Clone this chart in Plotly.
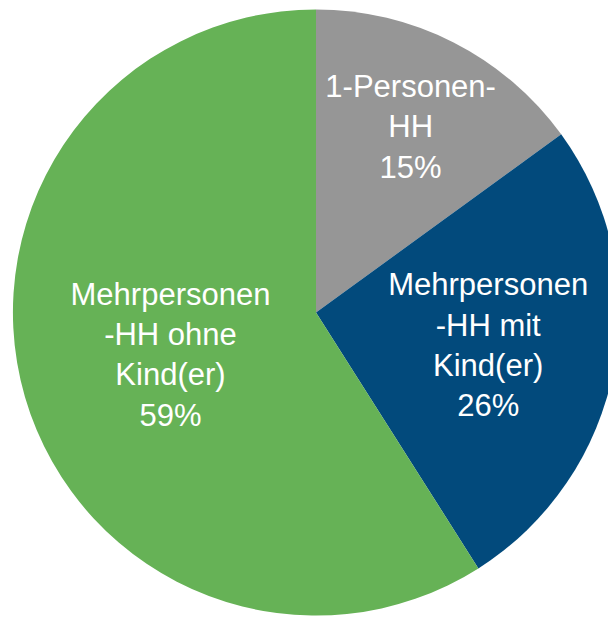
import plotly.graph_objects as go

labels = ["1-Personen-<br>HH", "Mehrpersonen<br>-HH mit<br>Kind(er)", "Mehrpersonen<br>-HH ohne<br>Kind(er)"]
values = [15, 26, 59]
colors = ["#969696", "#024A7C", "#66B256"]

fig = go.Figure()
fig.add_trace(go.Pie(
    labels=labels,
    values=values,
    sort=False,
    direction="clockwise",
    rotation=0,
    marker=dict(colors=colors, line=dict(width=0)),
    texttemplate="%{label}<br>%{percent:.0%}",
    textposition="inside",
    insidetextorientation="horizontal",
    textfont=dict(family="Liberation Sans, Arial, sans-serif", size=31, color="white"),
    domain=dict(x=[0.008, 0.992], y=[0.013, 1.0]),
    hoverinfo="label+percent",
))

fig.update_layout(
    width=616,
    height=617,
    margin=dict(l=0, r=0, t=0, b=0),
    showlegend=False,
    uniformtext=dict(minsize=31, mode="show"),
    paper_bgcolor="white",
    plot_bgcolor="white",
)

fig.write_html("out.html")
